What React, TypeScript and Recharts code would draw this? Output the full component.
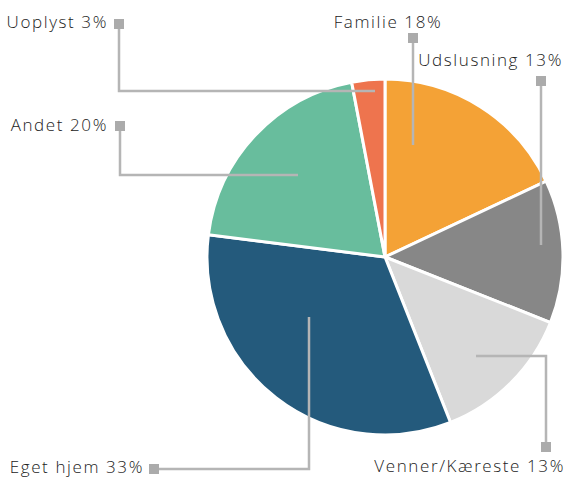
import React from "react";
import { PieChart, Pie, Cell } from "recharts";

// data
const categories = ["Familie", "Udslusning", "Venner/Kæreste", "Eget hjem", "Andet", "Uoplyst"];
const shares = [18, 13, 13, 33, 20, 3];
const colors = ["#F4A236", "#878787", "#D9D9D9", "#245A7C", "#68BD9D", "#EE744E"];

const data = categories.map((name, i) => ({ name, value: shares[i] }));

// leader line layout, offsets from the pie centre (px)
type Pt = [number, number];
const leaders: { path: Pt[]; text: Pt; anchor: "start" | "middle" | "end" }[] = [
  { path: [[28, -112], [28, -219]], text: [3, -229], anchor: "middle" },
  { path: [[156, -12], [156, -176]], text: [178, -191], anchor: "end" },
  { path: [[91, 99], [161, 99], [161, 190]], text: [180, 215], anchor: "end" },
  { path: [[-76, 60], [-76, 212], [-231, 212]], text: [-241, 216], anchor: "end" },
  { path: [[-87, -82], [-265, -82], [-265, -131]], text: [-277, -126], anchor: "end" },
  { path: [[-10, -166], [-266, -166], [-266, -233]], text: [-277, -229], anchor: "end" },
];

const LINE = "#B5B5B5";

const renderLabel = (props: any) => {
  const { cx, cy, index, name, value } = props;
  const l = leaders[index];
  const pts = l.path.map(([x, y]) => `${cx + x},${cy + y}`).join(" ");
  const [sx, sy] = l.path[l.path.length - 1];
  return (
    <g key={`lbl-${index}`}>
      <polyline points={pts} fill="none" stroke={LINE} strokeWidth={2.5} />
      <rect x={cx + sx - 5} y={cy + sy - 5} width={10} height={10} fill="#ABABAB" />
      <text
        x={cx + l.text[0]}
        y={cy + l.text[1]}
        textAnchor={l.anchor}
        fill="#222"
        fontSize={17}
        fontWeight={300}
        letterSpacing={1.6}
        fontFamily="'Open Sans', sans-serif"
      >
        {`${name} ${value}%`}
      </text>
    </g>
  );
};

export default function App() {
  return (
    <div style={{ position: "absolute", left: 0, top: 0, width: 566, height: 477, background: "#fff" }}>
      <PieChart width={566} height={477} margin={{ top: 0, right: 0, bottom: 0, left: 0 }}>
        <Pie
          data={data}
          dataKey="value"
          nameKey="name"
          cx={385}
          cy={257}
          outerRadius={178}
          startAngle={90}
          endAngle={-270}
          stroke="#fff"
          strokeWidth={3}
          label={renderLabel}
          labelLine={false}
          isAnimationActive={false}
        >
          {data.map((d, i) => (
            <Cell key={d.name} fill={colors[i]} />
          ))}
        </Pie>
      </PieChart>
    </div>
  );
}
